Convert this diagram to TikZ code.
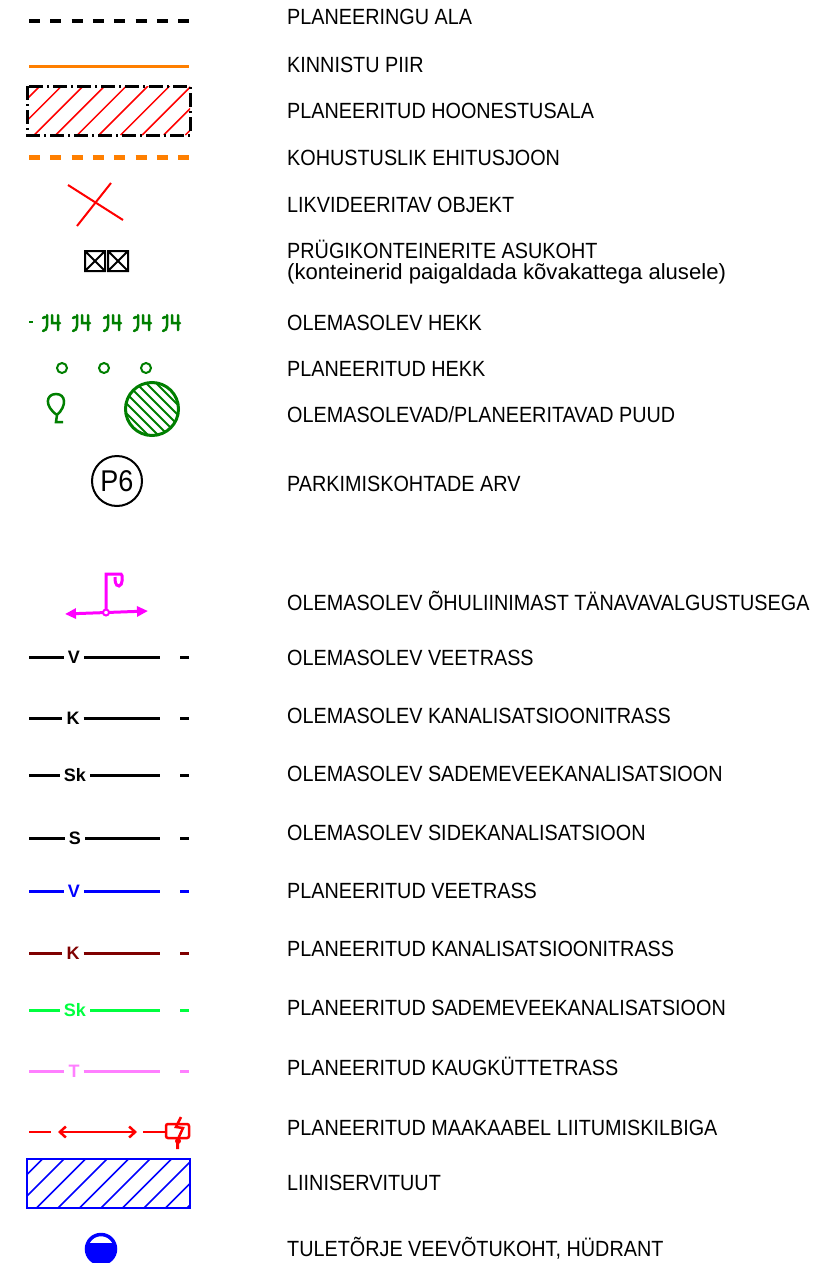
\documentclass[tikz,border=0pt]{standalone}
\usepackage{fontspec}
\setmainfont[FakeStretch=0.9]{Liberation Sans}
\newfontfamily\widefont[FakeStretch=1.005]{Liberation Sans}
\newfontfamily\tagfont{Liberation Sans}
\usetikzlibrary{arrows.meta}
\definecolor{piir}{RGB}{255,127,0}
\definecolor{hekk}{RGB}{0,127,0}
\definecolor{valgus}{RGB}{255,0,255}
\definecolor{kanal}{RGB}{127,0,0}
\definecolor{sade}{RGB}{0,255,63}
\definecolor{kaug}{RGB}{255,127,255}
\tikzstyle{legend}=[anchor=base west,inner sep=0pt,font=\fontsize{22}{24}\selectfont]
\tikzstyle{lbl}=[inner xsep=4pt,inner ysep=0pt,font=\tagfont\bfseries\fontsize{18}{18}\selectfont]
\tikzstyle{trass}=[line width=3pt]

\begin{document}
\begin{tikzpicture}[x=1pt,y=-1pt]
		\useasboundingbox (0,0) rectangle (827,1263);

		\node (ala) at (287,25) [legend] {PLANEERINGU ALA};
		\node (kpiir) at (287,72) [legend] {KINNISTU PIIR};
		\node (hoonala) at (287,118) [legend] {PLANEERITUD HOONESTUSALA};
		\node (ehitusjoon) at (287,165) [legend] {KOHUSTUSLIK EHITUSJOON};
		\node (likv) at (287,212) [legend] {LIKVIDEERITAV OBJEKT};
		\node (prygi) at (287,258) [legend] {PRÜGIKONTEINERITE ASUKOHT};
		\node (prygi2) at (287,279) [legend,font=\widefont\fontsize{22}{24}\selectfont] {(konteinerid paigaldada kõvakattega alusele)};
		\node (hekk1) at (287,330) [legend] {OLEMASOLEV HEKK};
		\node (hekk2) at (287,376) [legend] {PLANEERITUD HEKK};
		\node (puud) at (287,422) [legend] {OLEMASOLEVAD/PLANEERITAVAD PUUD};
		\node (parkim) at (287,491) [legend] {PARKIMISKOHTADE ARV};
		\node (valg) at (287,610) [legend] {OLEMASOLEV ÕHULIINIMAST TÄNAVAVALGUSTUSEGA};
		\node (vee1) at (287,665) [legend] {OLEMASOLEV VEETRASS};
		\node (kan1) at (287,723) [legend] {OLEMASOLEV KANALISATSIOONITRASS};
		\node (sade1) at (287,781) [legend] {OLEMASOLEV SADEMEVEEKANALISATSIOON};
		\node (side1) at (287,840) [legend] {OLEMASOLEV SIDEKANALISATSIOON};
		\node (vee2) at (287,898) [legend] {PLANEERITUD VEETRASS};
		\node (kan2) at (287,956) [legend] {PLANEERITUD KANALISATSIOONITRASS};
		\node (sade2) at (287,1015) [legend] {PLANEERITUD SADEMEVEEKANALISATSIOON};
		\node (kaug2) at (287,1075) [legend] {PLANEERITUD KAUGKÜTTETRASS};
		\node (kaabel) at (287,1135) [legend] {PLANEERITUD MAAKAABEL LIITUMISKILBIGA};
		\node (servit) at (287,1190) [legend] {LIINISERVITUUT};
		\node (hydr) at (287,1256) [legend] {TULETÕRJE VEEVÕTUKOHT, HÜDRANT};

		% planeeringu ala, kinnistu piir
		\draw [black,line width=4pt,dash pattern=on 11pt off 10.3pt] (29,21)--(189,21);
		\draw [piir,line width=3pt] (29,67)--(189,67);

		% hoonestusala
		\begin{scope}
			\clip (27,86) rectangle (190,135);
			\foreach \x in {-9,12.6,...,190}
				\draw [red,line width=1.5pt] (\x,135)-- ++(49,-49);
		\end{scope}
		\draw [black,line width=3pt,dash pattern=on 14pt off 4pt on 2pt off 4pt] (27,86) rectangle (190,135);
		\draw [piir,line width=5pt,dash pattern=on 11pt off 10.3pt] (29,157)--(189,157);

		% likvideeritav, konteinerid
		\draw [red,line width=2pt] (68,185)--(123,220);
		\draw [red,line width=2pt] (77,226)--(111,183);
		\draw [line width=2pt] (85,251) rectangle (105,271) (85,251)--(105,271) (85,271)--(105,251);
		\draw [line width=2pt] (108,251) rectangle (128,271) (108,251)--(128,271) (108,271)--(128,251);

		% hekk
		\draw [hekk,line width=2.5pt] (29,322)--(33,322);
		\foreach \x in {43,73,104,134,163}
			\draw [hekk,line width=2.5pt,line cap=round]
				(\x,318)--(\x+2,317) (\x+4,315)--(\x+4,326) to[out=-90,in=0] (\x,331)
				(\x+9,315)--(\x+9,323)--(\x+17,323) (\x+15,315)--(\x+15,330);
		\draw [hekk,line width=2pt] (62,368) circle (5pt);
		\draw [hekk,line width=2pt] (104,368) circle (5pt);
		\draw [hekk,line width=2pt] (146,368) circle (5pt);

		% puud
		\draw [hekk,line width=2.5pt] (57,415) .. controls (44,406) and (46,394) .. (56,394)
			.. controls (66,394) and (67,406) .. (57,415)--(56,422)--(63,422);
		\begin{scope}
			\clip (152,409) circle (27pt);
			\foreach \x in {62,72,...,172}
				\draw [hekk,line width=1.8pt] (\x,369)-- ++(80,80);
		\end{scope}
		\draw [hekk,line width=3pt] (152,409) circle (26.5pt);

		\node (p6) at (117,481) [circle,draw,line width=2pt,minimum size=50pt,inner sep=0pt,font=\fontsize{30}{30}\selectfont] {P6};

		% tanavavalgustus
		\draw [valgus,line width=3pt,{Triangle[length=11pt,width=10pt]}-{Triangle[length=11pt,width=10pt]}] (65,614)--(148,611);
		\draw [valgus,line width=3pt] (106,609)--(106,574)--(121,574) .. controls (123,574) and (123,586) .. (119,586)
			.. controls (115,586) and (115,580) .. (115,577);
		\draw [valgus,line width=2pt,fill=white] (106,612.5) circle (3pt);

		% trassid
		\node (v1) at (74,657) [lbl] {V};
		\draw [trass] (29,657)--(v1);
		\draw [trass] (v1)--(160,657);
		\draw [trass] (180,657)--(189,657);
		\node (k1) at (73,718) [lbl] {K};
		\draw [trass] (29,718)--(k1);
		\draw [trass] (k1)--(160,718);
		\draw [trass] (180,718)--(189,718);
		\node (sk1) at (75,775) [lbl] {Sk};
		\draw [trass] (29,775)--(sk1);
		\draw [trass] (sk1)--(160,775);
		\draw [trass] (180,775)--(189,775);
		\node (s1) at (75,838) [lbl] {S};
		\draw [trass] (29,838)--(s1);
		\draw [trass] (s1)--(160,838);
		\draw [trass] (180,838)--(189,838);
		\node (v2) at (74,891) [lbl,blue] {V};
		\draw [trass,blue] (29,891)--(v2);
		\draw [trass,blue] (v2)--(160,891);
		\draw [trass,blue] (180,891)--(189,891);
		\node (k2) at (73,953) [lbl,kanal] {K};
		\draw [trass,kanal] (29,953)--(k2);
		\draw [trass,kanal] (k2)--(160,953);
		\draw [trass,kanal] (180,953)--(189,953);
		\node (sk2) at (75,1010) [lbl,sade] {Sk};
		\draw [trass,sade] (29,1010)--(sk2);
		\draw [trass,sade] (sk2)--(160,1010);
		\draw [trass,sade] (180,1010)--(189,1010);
		\node (t2) at (74,1071) [lbl,kaug] {T};
		\draw [trass,kaug] (29,1071)--(t2);
		\draw [trass,kaug] (t2)--(160,1071);
		\draw [trass,kaug] (180,1071)--(189,1071);

		% maakaabel
		\draw [red,line width=2.5pt] (29,1132)--(51,1132);
		\draw [red,line width=2.5pt,{Straight Barb[length=6pt,width=11pt]}-{Straight Barb[length=6pt,width=11pt]}] (58,1132)--(137,1132);
		\draw [red,line width=2.5pt] (143,1132)--(166,1132);
		\draw [red,line width=2.5pt,rounded corners=2pt] (166,1124) rectangle (189,1138);
		\draw [red,line width=2.5pt] (181,1117)--(176,1127)--(183,1128)--(178,1139);
		\fill [red] (178,1141) circle (3pt) (176,1142) rectangle (179,1149);

		% liiniservituut
		\begin{scope}
			\clip (27,1159) rectangle (190,1208);
			\foreach \x in {-6.5,15,...,190}
				\draw [blue,line width=1.5pt] (\x,1208)-- ++(49,-49);
		\end{scope}
		\draw [blue,line width=2pt] (27,1159) rectangle (190,1208);

		% hydrant
		\begin{scope}
			\clip (101,1249) circle (15pt);
			\fill [blue] (80,1243) rectangle (122,1270);
		\end{scope}
		\draw [blue,line width=3.5pt] (101,1249) circle (14.5pt);
	\end{tikzpicture}
\end{document}
